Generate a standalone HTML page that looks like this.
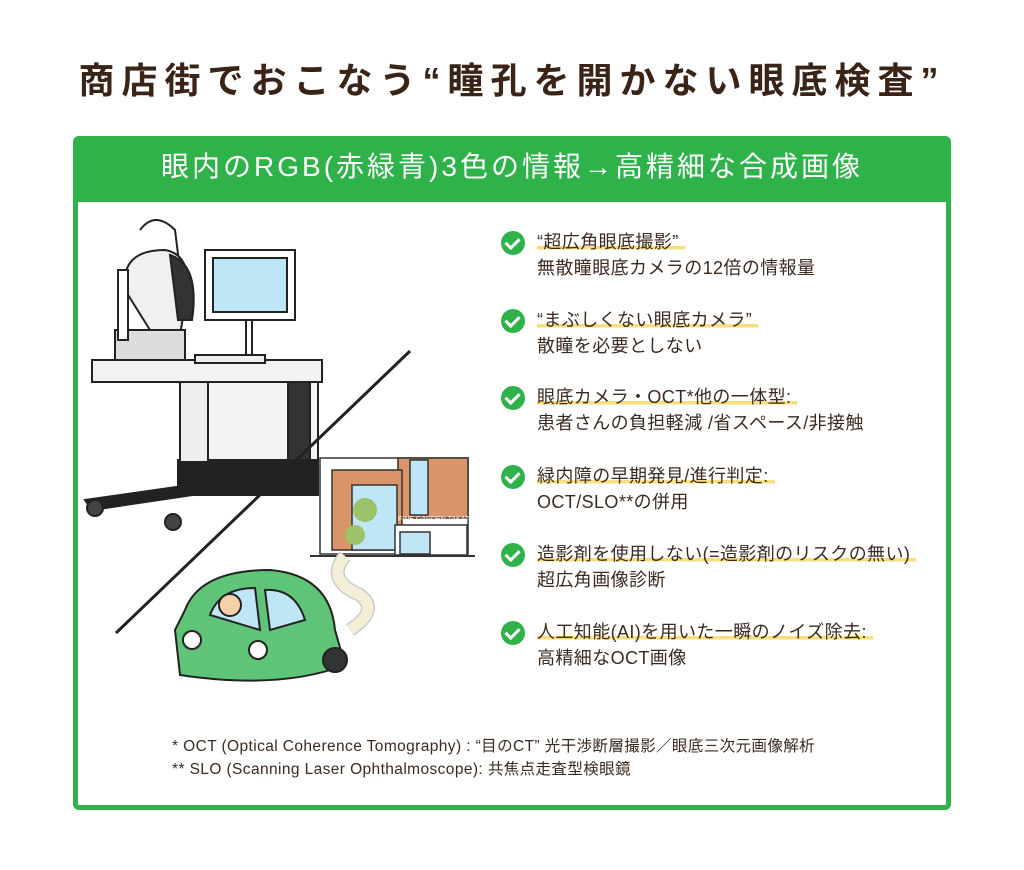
<!DOCTYPE html>
<html><head><meta charset="utf-8"><style>
body{margin:0;width:1024px;height:870px;background:#fff;position:relative;overflow:hidden;font-family:"Liberation Sans","Noto Sans CJK JP",sans-serif;color:#3b2a20}
.a{position:absolute;white-space:nowrap}
.title{left:0;width:1024px;top:52px;text-align:center;font-size:36px;font-weight:bold;letter-spacing:7px;color:#3a2417}
.box{position:absolute;left:73px;top:136px;width:868px;height:664px;border:5px solid #2fb24a;border-radius:6px}
.hdr{position:absolute;left:73px;top:136px;width:878px;height:66px;background:#2fb24a;border-radius:6px 6px 0 0;color:#fff;font-size:28px;text-align:center;line-height:62px;letter-spacing:3px}
.it{font-size:18px;line-height:26px;left:537px;letter-spacing:0.4px}
.u{background:linear-gradient(transparent 70%,#f7df7e 70%,#f7df7e 88%,transparent 88%);padding-right:6px}
.ck{position:absolute;left:501px;width:24px;height:24px;border-radius:50%;background:#2fb24a}
.ck:after{content:"";position:absolute;left:7px;top:4px;width:6px;height:11px;border:solid #fff;border-width:0 3px 3px 0;transform:rotate(45deg)}
.fn{font-size:15.5px;left:172px;letter-spacing:0.4px}
</style></head><body>
<div class="a title">商店街でおこなう“瞳孔を開かない眼底検査”</div>
<div class="box"></div>
<div class="hdr">眼内のRGB(赤緑青)3色の情報→高精細な合成画像</div>

<svg class="a" style="left:80px;top:210px" width="400" height="480" viewBox="0 0 400 480">
<g stroke="#222" stroke-width="2" fill="#fff">
<rect x="98" y="250" width="140" height="35" fill="#222"/>
<path d="M5 290 L180 265 L180 275 L12 300Z" fill="#222"/>
<circle cx="15" cy="298" r="8" fill="#444"/><circle cx="93" cy="312" r="8" fill="#444"/>
<rect x="100" y="170" width="130" height="82" fill="#eee"/>
<rect x="128" y="170" width="110" height="80" fill="#f3f3f3"/>
<rect x="208" y="170" width="22" height="80" fill="#333"/>
<rect x="12" y="150" width="230" height="22" fill="#f2f2f2"/>
<rect x="125" y="40" width="90" height="70"/>
<rect x="133" y="48" width="74" height="54" fill="#bfe6f7"/>
<rect x="166" y="110" width="6" height="35"/>
<rect x="115" y="145" width="70" height="8" fill="#eee"/>
<path d="M60 20 Q75 0 95 20 L100 60" fill="none"/>
<path d="M45 80 Q40 40 85 40 Q115 45 105 95 L100 125 L70 120 Z" fill="#f0f0f0"/>
<path d="M90 45 Q120 55 112 110 L98 110 Z" fill="#333"/>
<rect x="35" y="120" width="70" height="30" fill="#ddd"/>
<rect x="38" y="60" width="10" height="70"/>
</g>
<line x1="330" y1="141" x2="36" y2="423" stroke="#222" stroke-width="3"/>
<g stroke="#333" stroke-width="1.5">
<rect x="240" y="248" width="148" height="96" fill="#fff"/>
<rect x="318" y="248" width="70" height="60" fill="#d9946a"/>
<rect x="330" y="250" width="18" height="55" fill="#bfe6f7"/>
<rect x="252" y="260" width="70" height="80" fill="#d9946a"/>
<rect x="272" y="275" width="45" height="65" fill="#bfe6f7"/>
<rect x="315" y="315" width="72" height="30" fill="#fff"/>
<rect x="320" y="322" width="30" height="22" fill="#bfe6f7"/>
<line x1="230" y1="346" x2="395" y2="346" stroke-width="2"/>
</g>
<circle cx="285" cy="300" r="12" fill="#9cc26a"/><circle cx="275" cy="325" r="10" fill="#9cc26a"/>
<text x="318" y="311" font-size="7" fill="#fff" font-family="Liberation Sans">FINE GARDEN TAKATO</text>
<path d="M265 346 Q245 370 280 385 Q300 400 270 420" stroke="#ccc" stroke-width="14" fill="none"/>
<path d="M265 346 Q245 370 280 385 Q300 400 270 420" stroke="#f3eed5" stroke-width="11" fill="none"/>
<g stroke="#222" stroke-width="2">
<path d="M105 400 Q120 360 190 360 Q250 365 255 420 L265 455 Q200 480 100 465 L95 420 Z" fill="#5fc478"/>
<path d="M130 405 Q140 378 175 378 L180 420 Z" fill="#bfe6f7"/>
<path d="M185 380 Q215 378 225 410 L190 420 Z" fill="#bfe6f7"/>
<circle cx="150" cy="395" r="11" fill="#f5d0a8"/>
<circle cx="112" cy="430" r="9" fill="#fff"/><circle cx="178" cy="440" r="9" fill="#fff"/>
<circle cx="255" cy="450" r="12" fill="#333"/>
</g>
</svg>

<div class="ck" style="top:231px"></div>
<div class="a it" style="top:229px"><span class="u">“超広角眼底撮影”</span><br>無散瞳眼底カメラの12倍の情報量</div>
<div class="ck" style="top:309px"></div>
<div class="a it" style="top:307px"><span class="u">“まぶしくない眼底カメラ”</span><br>散瞳を必要としない</div>
<div class="ck" style="top:386px"></div>
<div class="a it" style="top:384px"><span class="u">眼底カメラ・OCT*他の一体型:</span><br>患者さんの負担軽減 /省スペース/非接触</div>
<div class="ck" style="top:465px"></div>
<div class="a it" style="top:463px"><span class="u">緑内障の早期発見/進行判定:</span><br>OCT/SLO**の併用</div>
<div class="ck" style="top:543px"></div>
<div class="a it" style="top:541px"><span class="u">造影剤を使用しない(=造影剤のリスクの無い)</span><br>超広角画像診断</div>
<div class="ck" style="top:621px"></div>
<div class="a it" style="top:619px"><span class="u">人工知能(AI)を用いた一瞬のノイズ除去:</span><br>高精細なOCT画像</div>

<div class="a fn" style="top:734px">* OCT (Optical Coherence Tomography) : “目のCT” 光干渉断層撮影／眼底三次元画像解析</div>
<div class="a fn" style="top:757px">** SLO (Scanning Laser Ophthalmoscope): 共焦点走査型検眼鏡</div>
</body></html>
